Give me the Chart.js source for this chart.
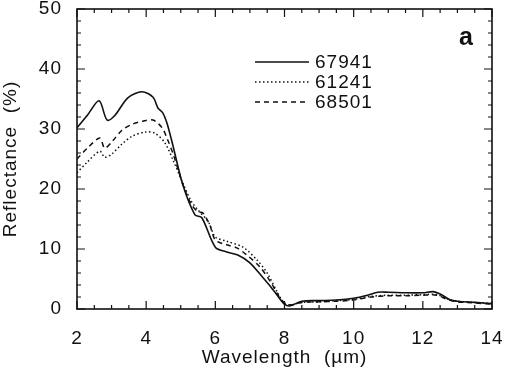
<!DOCTYPE html>
<html lang="en">
<head>
  <meta charset="UTF-8" />
  <title>Reflectance spectra</title>
  <script src="https://cdn.jsdelivr.net/npm/chart.js"></script>
  <style>
    body { margin: 0; background: #fff; }
    .wrap { width: 505px; height: 377px; position: relative; }
  </style>
</head>
<body>
  <div class="wrap"><canvas id="spectra"></canvas></div>

  <script>
    // sample names
    const sampleNames = ["67941", "61241", "68501"];

    // 67941 (solid)
    const wl67941 = [2.0, 2.3, 2.64, 2.87, 3.1, 3.47, 3.88, 4.2, 4.34, 4.48, 4.6, 4.75, 5.06, 5.41, 5.61, 6.0, 6.33, 6.65, 7.0, 7.38, 7.6, 7.8, 8.0, 8.15, 8.5, 9.0, 9.5, 10.0, 10.4, 10.7, 11.0, 11.5, 12.0, 12.3, 12.5, 12.8, 13.0, 13.5, 14.0];
    const r67941  = [30.2, 32.3, 34.7, 31.5, 32.3, 35.2, 36.2, 35.3, 33.5, 32.7, 31.0, 27.8, 20.7, 15.7, 15.2, 10.3, 9.5, 9.0, 7.7, 5.2, 3.7, 2.2, 0.8, 0.5, 1.3, 1.4, 1.5, 1.8, 2.3, 2.8, 2.8, 2.7, 2.7, 2.9, 2.5, 1.5, 1.3, 1.1, 0.9];

    // 61241 (dotted)
    const wl61241 = [2.0, 2.3, 2.66, 2.8, 3.0, 3.3, 3.6, 3.97, 4.25, 4.54, 4.8, 5.06, 5.3, 5.5, 5.8, 6.0, 6.33, 6.8, 7.2, 7.5, 7.8, 8.0, 8.2, 8.5, 9.0, 9.5, 10.0, 10.5, 11.0, 11.5, 12.0, 12.4, 12.7, 13.0, 13.5, 14.0];
    const r61241  = [22.7, 24.5, 26.3, 25.3, 25.8, 27.5, 28.8, 29.5, 29.3, 27.7, 24.5, 21.0, 18.0, 16.5, 14.5, 12.0, 11.3, 10.3, 8.2, 6.0, 2.7, 0.9, 0.7, 1.1, 1.2, 1.4, 1.6, 2.1, 2.3, 2.3, 2.4, 2.4, 1.7, 1.3, 1.1, 0.9];

    // 68501 (dashed)
    const wl68501 = [2.0, 2.3, 2.66, 2.8, 3.0, 3.3, 3.6, 3.9, 4.2, 4.46, 4.6, 4.8, 5.06, 5.3, 5.5, 5.64, 5.84, 6.0, 6.33, 6.62, 6.91, 7.29, 7.6, 7.85, 8.05, 8.2, 8.5, 9.0, 9.5, 10.0, 10.5, 11.0, 11.5, 12.0, 12.4, 12.7, 13.0, 13.5, 14.0];
    const r68501  = [25.0, 26.8, 28.5, 26.8, 27.8, 29.8, 30.8, 31.3, 31.5, 30.2, 28.5, 25.5, 20.8, 17.5, 16.2, 16.0, 14.0, 11.5, 10.7, 10.2, 9.0, 7.0, 4.5, 2.0, 0.8, 0.7, 1.1, 1.2, 1.3, 1.5, 2.0, 2.2, 2.2, 2.3, 2.3, 1.6, 1.2, 1.0, 0.8];

    const xTicks = [2, 4, 6, 8, 10, 12, 14];
    const yTicks = [0, 10, 20, 30, 40, 50];

    const pts = (xs, ys) => xs.map((x, i) => ({ x: x, y: ys[i] }));
    const ink = "#111";
    const SP = "1px";

    // letter spaced text like the original figure
    const spacing = {
      id: "spacing",
      beforeUpdate(chart) { chart.ctx.letterSpacing = SP; },
      beforeDraw(chart) { chart.ctx.letterSpacing = SP; }
    };

    // frame, inward ticks, legend and panel letter
    const frame = {
      id: "frame",
      afterDraw(chart) {
        const { ctx, chartArea: a, scales: { x, y } } = chart;
        ctx.save();
        ctx.strokeStyle = ink;
        ctx.lineWidth = 1.6;
        ctx.strokeRect(a.left, a.top, a.right - a.left, a.bottom - a.top);

        ctx.lineWidth = 1.2;
        ctx.beginPath();
        for (let v = 2; v <= 14.001; v += 0.5) {
          const px = x.getPixelForValue(v);
          const len = Math.abs(v % 2) < 0.01 ? 8 : 4;
          ctx.moveTo(px, a.bottom); ctx.lineTo(px, a.bottom - len);
          ctx.moveTo(px, a.top); ctx.lineTo(px, a.top + len);
        }
        for (let v = 0; v <= 50.001; v += 2) {
          const py = y.getPixelForValue(v);
          const len = v % 10 === 0 ? 8 : 4;
          ctx.moveTo(a.left, py); ctx.lineTo(a.left + len, py);
          ctx.moveTo(a.right, py); ctx.lineTo(a.right - len, py);
        }
        ctx.stroke();

        // legend
        ctx.font = "19px 'Liberation Sans', Arial, sans-serif";
        ctx.letterSpacing = SP;
        ctx.textBaseline = "middle";
        ctx.fillStyle = ink;
        chart.data.datasets.forEach((ds, i) => {
          const ly = 62 + i * 20;
          ctx.beginPath();
          ctx.setLineDash(ds.borderDash || []);
          ctx.lineWidth = ds.borderWidth;
          ctx.moveTo(255, ly); ctx.lineTo(309, ly);
          ctx.stroke();
          ctx.setLineDash([]);
          ctx.fillText(ds.label, 315, ly + 1);
        });

        ctx.font = "bold 25px 'Liberation Sans', Arial, sans-serif";
        ctx.letterSpacing = "0px";
        ctx.fillText("a", 459, 38);
        ctx.restore();
      }
    };

    const tickFont = { family: "'Liberation Sans', Arial, sans-serif", size: 19 };

    new Chart(document.getElementById("spectra"), {
      type: "line",
      data: {
        datasets: [
          { label: sampleNames[0], data: pts(wl67941, r67941), borderColor: ink, borderWidth: 1.6, borderDash: [] },
          { label: sampleNames[1], data: pts(wl61241, r61241), borderColor: ink, borderWidth: 1.5, borderDash: [1.5, 2.5] },
          { label: sampleNames[2], data: pts(wl68501, r68501), borderColor: ink, borderWidth: 1.5, borderDash: [5, 4] }
        ]
      },
      options: {
        responsive: true,
        maintainAspectRatio: false,
        animation: false,
        events: [],
        layout: { padding: { top: 9, right: 13, left: 0, bottom: 0 } },
        elements: { point: { radius: 0 }, line: { tension: 0.3, fill: false } },
        plugins: { legend: { display: false }, tooltip: { enabled: false } },
        scales: {
          x: {
            type: "linear", min: 2, max: 14,
            afterBuildTicks: s => { s.ticks = xTicks.map(v => ({ value: v })); },
            afterFit: s => { s.height = 68; s.paddingLeft = 0; s.paddingRight = 0; },
            grid: { display: false }, border: { display: false },
            ticks: { color: ink, font: tickFont, padding: 10, maxRotation: 0 },
            title: { display: true, text: "Wavelength  (\u00b5m)", color: ink, font: tickFont, padding: { top: 0, bottom: 8 } }
          },
          y: {
            min: 0, max: 50,
            afterBuildTicks: s => { s.ticks = yTicks.map(v => ({ value: v })); },
            afterFit: s => { s.width = 77; s.paddingTop = 0; s.paddingBottom = 0; },
            grid: { display: false }, border: { display: false },
            ticks: { color: ink, font: tickFont, padding: 7 },
            title: { display: true, text: "Reflectance  (%)", color: ink, font: tickFont, padding: { top: -1, bottom: 0 } }
          }
        }
      },
      plugins: [spacing, frame]
    });
  </script>
</body>
</html>
